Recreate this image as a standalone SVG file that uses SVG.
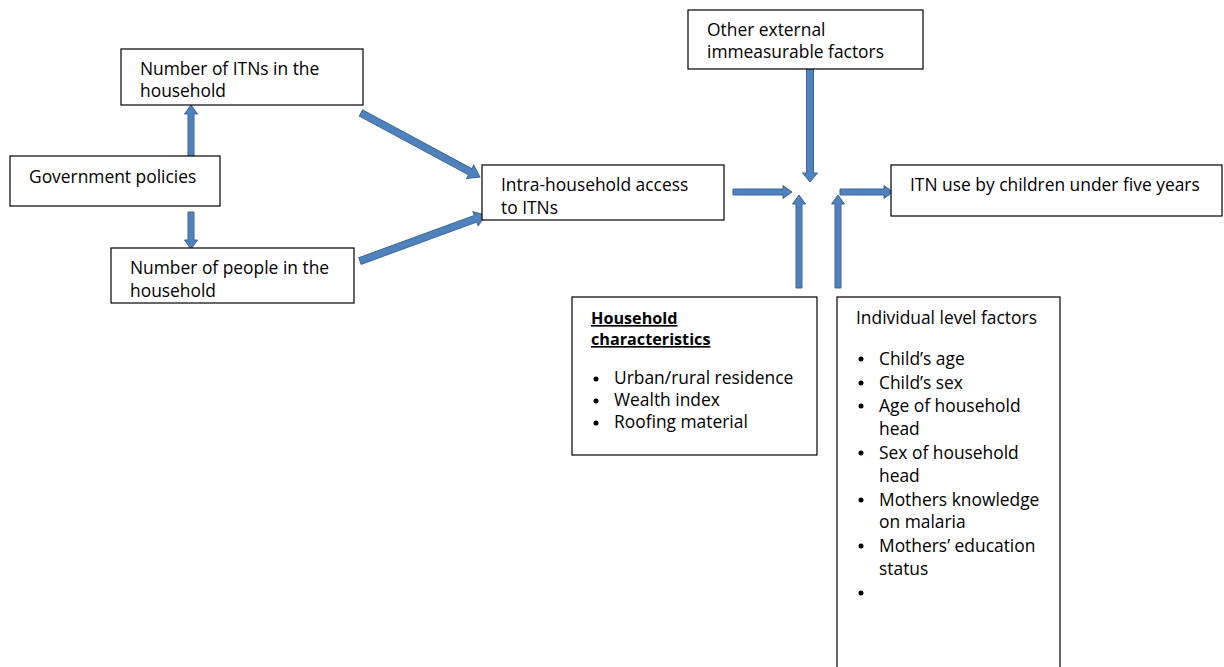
<svg xmlns="http://www.w3.org/2000/svg" width="1224" height="667" viewBox="0 0 1224 667">
<style>
.box{fill:#fff;stroke:#000;stroke-width:1.2}
text{font-family:"Open Sans","Liberation Sans",sans-serif;font-size:17.4px;fill:#000}
.arr{fill:#4F81BD;stroke:#3A6796;stroke-width:1}
.b{font-weight:bold;text-decoration:underline;font-size:16.2px}
</style>
<rect width="1224" height="667" fill="#fff"/>
<g id="connectors">
<polygon class="arr" transform="translate(191,157) rotate(-90)" points="0,-3 43,-3 43,-6.5 52,0 43,6.5 43,3 0,3"/>
<polygon class="arr" transform="translate(191,212) rotate(90)" points="0,-3 28,-3 28,-6.5 37,0 28,6.5 28,3 0,3"/>
<polygon class="arr" transform="translate(361,113) rotate(28.3)" points="0,-3.5 124,-3.5 124,-7.5 135,0 124,7.5 124,3.5 0,3.5"/>
<polygon class="arr" transform="translate(360,261) rotate(-20.1)" points="0,-3.5 123,-3.5 123,-7.5 134,0 123,7.5 123,3.5 0,3.5"/>
<polygon class="arr" transform="translate(733,192)" points="0,-3 50,-3 50,-6.5 59,0 50,6.5 50,3 0,3"/>
<polygon class="arr" transform="translate(840,192)" points="0,-3 44,-3 44,-6.5 53,0 44,6.5 44,3 0,3"/>
<polygon class="arr" transform="translate(810,69) rotate(90)" points="0,-3.5 104,-3.5 104,-7.5 113,0 104,7.5 104,3.5 0,3.5"/>
<polygon class="arr" transform="translate(799,288) rotate(-90)" points="0,-3 84,-3 84,-6.5 93,0 84,6.5 84,3 0,3"/>
<polygon class="arr" transform="translate(838,288) rotate(-90)" points="0,-3 84,-3 84,-6.5 93,0 84,6.5 84,3 0,3"/>
</g>
<g id="itns">
<rect class="box" x="121" y="49" width="242" height="56"/>
<text x="140" y="75">Number of ITNs in the</text>
<text x="140" y="97">household</text>
</g>
<g id="gov">
<rect class="box" x="10" y="156" width="210" height="50"/>
<text x="29" y="183">Government policies</text>
</g>
<g id="people">
<rect class="box" x="111" y="248" width="243" height="55"/>
<text x="130" y="274">Number of people in the</text>
<text x="130" y="297">household</text>
</g>
<g id="intra">
<rect class="box" x="482" y="165" width="242" height="55"/>
<text x="501" y="191">Intra-household access</text>
<text x="501" y="214">to ITNs</text>
</g>
<g id="other">
<rect class="box" x="688" y="10" width="235" height="59"/>
<text x="707" y="36">Other external</text>
<text x="707" y="58">immeasurable factors</text>
</g>
<g id="use">
<rect class="box" x="891" y="165" width="331" height="51"/>
<text x="910" y="191">ITN use by children under five years</text>
</g>
<g id="household">
<rect class="box" x="572" y="297" width="245" height="158"/>
<text class="b" x="591" y="324">Household</text>
<text class="b" x="591" y="345">characteristics</text>
<circle cx="596" cy="379" r="2.5"/><text x="614" y="384">Urban/rural residence</text>
<circle cx="596" cy="401" r="2.5"/><text x="614" y="406">Wealth index</text>
<circle cx="596" cy="423" r="2.5"/><text x="614" y="428">Roofing material</text>
</g>
<g id="individual">
<rect class="box" x="837" y="297" width="223" height="380"/>
<text x="856" y="324">Individual level factors</text>
<circle cx="861" cy="359" r="2.5"/><text x="879" y="365">Child’s age</text>
<circle cx="861" cy="383" r="2.5"/><text x="879" y="389">Child’s sex</text>
<circle cx="861" cy="406" r="2.5"/><text x="879" y="412">Age of household</text>
<text x="879" y="435">head</text>
<circle cx="861" cy="453" r="2.5"/><text x="879" y="459">Sex of household</text>
<text x="879" y="482">head</text>
<circle cx="861" cy="500" r="2.5"/><text x="879" y="506">Mothers knowledge</text>
<text x="879" y="528">on malaria</text>
<circle cx="861" cy="546" r="2.5"/><text x="879" y="552">Mothers’ education</text>
<text x="879" y="575">status</text>
<circle cx="861" cy="593" r="2.5"/>
</g>
</svg>
